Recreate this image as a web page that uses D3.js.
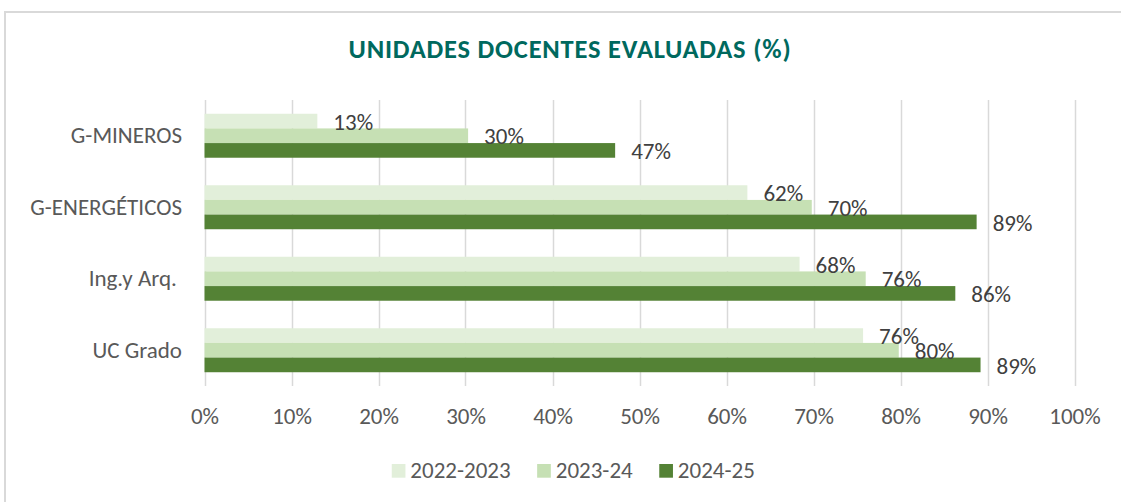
<!DOCTYPE html>
<html>
<head>
<meta charset="utf-8">
<script src="https://cdn.jsdelivr.net/npm/d3@7"></script>
<style>
  html, body { margin: 0; padding: 0; background: #fff; }
  svg { display: block; }
  text { font-family: Carlito, Calibri, Lato, sans-serif; }
</style>
</head>
<body>
<svg id="chart" width="1121" height="502"></svg>
<script>
// ---- data ----
const categories = ["G-MINEROS", "G-ENERGÉTICOS", "Ing.y Arq. ", "UC Grado"];
const seriesNames = ["2022-2023", "2023-24", "2024-25"];
const values2022_2023 = [12.97, 62.4, 68.4, 75.7];
const values2023_24 = [30.3, 69.8, 76.0, 79.8];
const values2024_25 = [47.2, 88.75, 86.3, 89.2];
const tickValues = [0, 10, 20, 30, 40, 50, 60, 70, 80, 90, 100];
const tickLabels = ["0%", "10%", "20%", "30%", "40%", "50%", "60%", "70%", "80%", "90%", "100%"];
const title = "UNIDADES DOCENTES EVALUADAS (%)";

const seriesValues = [values2022_2023, values2023_24, values2024_25];
const colors = ["#E2EFDA", "#C6E0B4", "#548235"];

const svg = d3.select("#chart");

// chart border (extends past right/bottom edges)
svg.append("path")
  .attr("d", "M5,520 L5,12 L1140,12")
  .attr("fill", "none")
  .attr("stroke", "#d9d9d9")
  .attr("stroke-width", 2);

// title
svg.append("text")
  .attr("x", 570).attr("y", 57.5)
  .attr("text-anchor", "middle")
  .attr("font-weight", "bold")
  .attr("font-size", 26.5)
  .attr("letter-spacing", 0.8)
  .attr("fill", "#00695E")
  .text(title);

const x = d3.scaleLinear().domain([0, 100]).range([204.5, 1074.5]);
const y = d3.scaleBand().domain(categories).range([100, 386]).paddingInner(0.385).paddingOuter(0.1925);
const ySub = d3.scaleBand().domain(seriesNames).range([0, y.bandwidth()]);

// gridlines
svg.append("g").selectAll("line").data(tickValues).join("line")
  .attr("x1", d => Math.round(x(d)) + 0.5).attr("x2", d => Math.round(x(d)) + 0.5)
  .attr("y1", 100).attr("y2", 386)
  .attr("stroke", "#d9d9d9").attr("stroke-width", 1.5);

// x axis tick labels
const xAxis = d3.axisBottom(x).tickValues(tickValues).tickFormat((d, i) => tickLabels[i]).tickSize(0).tickPadding(0);
const gx = svg.append("g").call(xAxis);
gx.select(".domain").remove();
gx.selectAll("text")
  .attr("y", 424.3).attr("dy", null)
  .attr("font-size", 23).attr("fill", "#595959")
  .style("font-family", "Carlito, Calibri, Lato, sans-serif");

// y axis category labels
const yAxis = d3.axisLeft(y).tickSize(0).tickPadding(0);
const gy = svg.append("g").attr("transform", "translate(182,0)").call(yAxis);
gy.select(".domain").remove();
gy.selectAll("text")
  .attr("x", 0).attr("dy", "0.32em")
  .attr("font-size", 23).attr("fill", "#595959")
  .style("white-space", "pre")
  .style("font-family", "Carlito, Calibri, Lato, sans-serif");

// bars
const rows = [];
categories.forEach((c, ci) => {
  seriesNames.forEach((s, si) => {
    rows.push({ cat: c, series: s, si: si, value: seriesValues[si][ci] });
  });
});

svg.append("g").selectAll("rect").data(rows).join("rect")
  .attr("x", x(0))
  .attr("y", d => y(d.cat) + ySub(d.series))
  .attr("width", d => x(d.value) - x(0))
  .attr("height", ySub.bandwidth())
  .attr("fill", d => colors[d.si]);

// data labels
svg.append("g").selectAll("text").data(rows).join("text")
  .attr("x", d => x(d.value) + 16)
  .attr("y", d => y(d.cat) + ySub(d.series) + ySub.bandwidth() / 2 + 8.7)
  .attr("font-size", 23)
  .attr("fill", "#404040")
  .text(d => Math.round(d.value) + "%");

// legend
const legend = svg.append("g");
const items = legend.selectAll("g").data(seriesNames).join("g");
items.append("rect").attr("width", 13.7).attr("height", 13.7).attr("y", 464)
  .attr("fill", (d, i) => colors[i]);
items.append("text").attr("y", 478.3).attr("font-size", 23).attr("fill", "#595959").text(d => d);
let cursor = 0;
items.each(function(d, i) {
  const g = d3.select(this);
  const tw = g.select("text").node().getComputedTextLength();
  g.select("rect").attr("x", cursor);
  g.select("text").attr("x", cursor + 18.6);
  cursor += 18.6 + tw + 26.5;
});
const total = cursor - 26.5;
legend.attr("transform", `translate(${573.3 - total / 2},0)`);
</script>
</body>
</html>
